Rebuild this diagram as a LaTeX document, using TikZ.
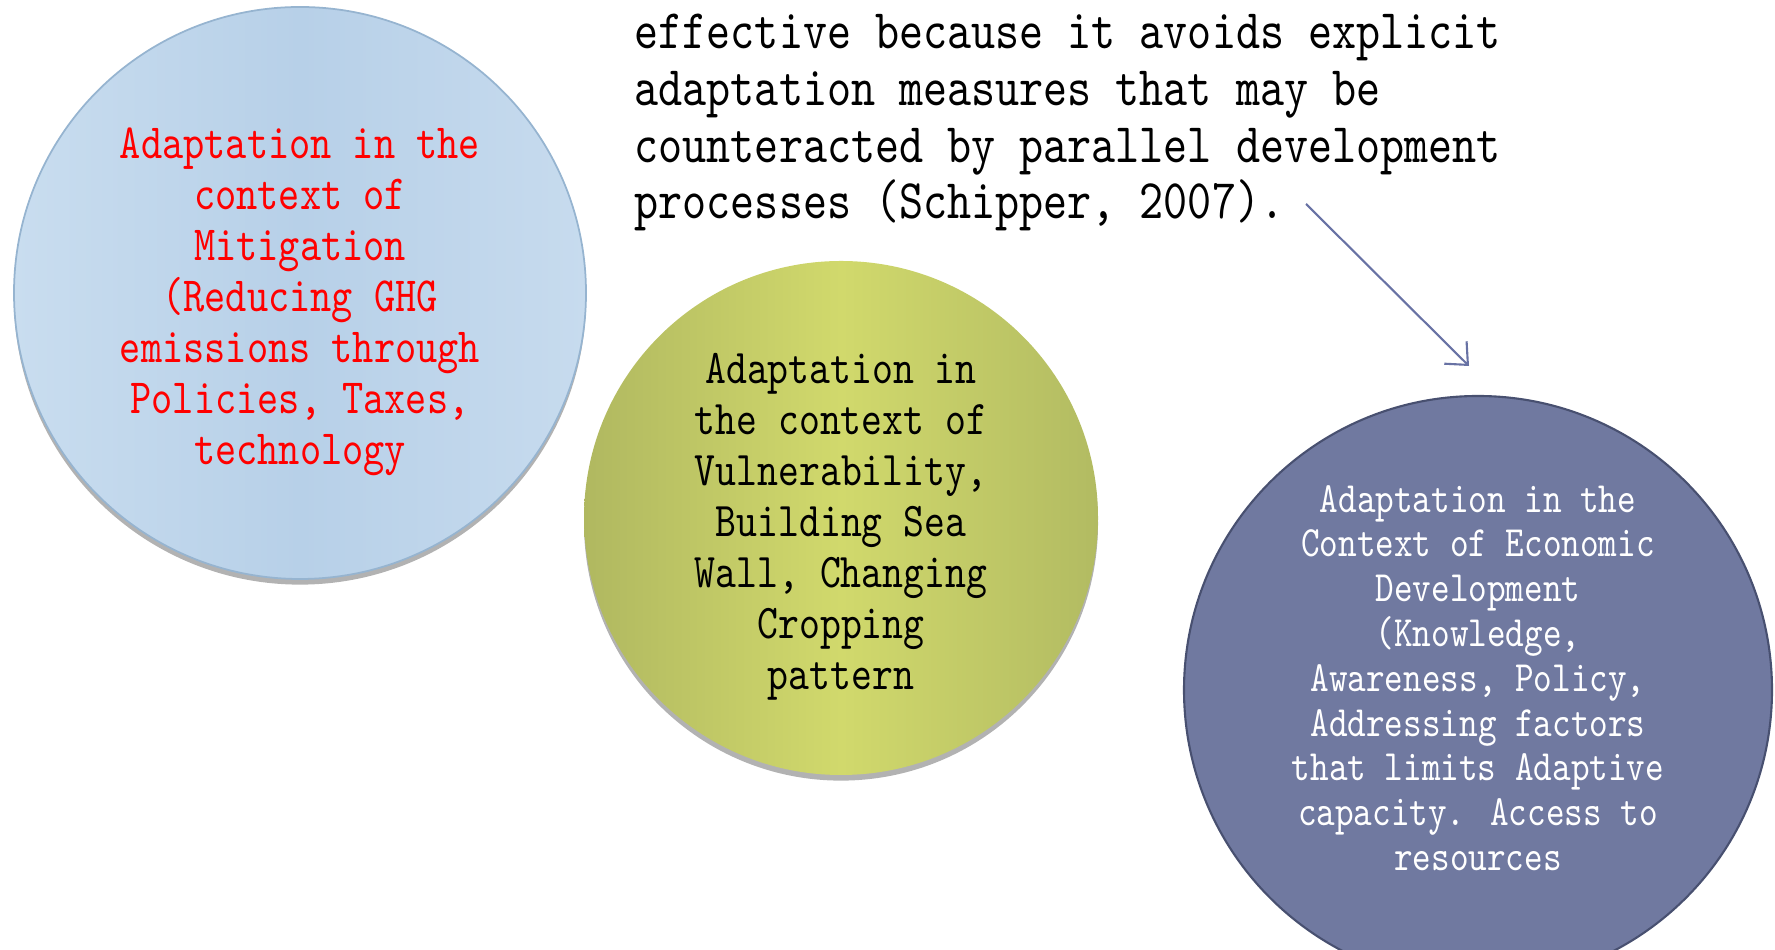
\documentclass[tikz,border=0pt]{standalone}
\usepackage{fontspec}
\usetikzlibrary{shadows,arrows.meta}
\newfontfamily\narrowtt[FakeStretch=0.82]{lmmono10-regular.otf}
\definecolor{MitBlueL}{RGB}{201,221,239}
\definecolor{MitBlueM}{RGB}{183,208,232}
\definecolor{MitBlueR}{RGB}{199,219,238}
\definecolor{MitBlueEdge}{RGB}{150,180,208}
\definecolor{VulGreenL}{RGB}{176,184,96}
\definecolor{VulGreenM}{RGB}{209,217,108}
\definecolor{VulGreenR}{RGB}{178,187,98}
\definecolor{EcoPurple}{RGB}{112,121,160}
\definecolor{EcoPurpleEdge}{RGB}{72,80,112}
\definecolor{ArrowBlue}{RGB}{104,114,164}

\tikzset{
  bubble/.style={circle, inner sep=0pt},
  bubbletext/.style={inner sep=0pt, align=center},
  softshadow/.style={drop shadow={shadow xshift=0pt, shadow yshift=-1.6pt, fill=black, opacity=0.3}},
}

\begin{document}
\begin{tikzpicture}
	\clip (0,0) rectangle (17.75,9.5);
	% quotation at the top
	\node[anchor=north west, inner sep=0pt, align=left, font=\narrowtt\fontsize{15.9}{16.2}\selectfont] (quote) at (6.34,9.37)
		{effective because it avoids explicit\\adaptation measures that may be\\counteracted by parallel development\\processes (Schipper, 2007).};
	% the three contexts
	\node[bubble, minimum size=5.72cm, draw=MitBlueEdge, line width=0.5pt, left color=MitBlueL, right color=MitBlueR, middle color=MitBlueM, softshadow] (mit) at (3.00,6.57) {};
	\node[bubbletext, text=red, font=\narrowtt\fontsize{14}{14.5}\selectfont] (mittext) at ([yshift=-0.09cm]mit.center)
		{Adaptation in the\\context of\\Mitigation\\(Reducing GHG\\emissions through\\Policies, Taxes,\\technology};
	\node[bubble, minimum size=5.14cm, left color=VulGreenL, right color=VulGreenR, middle color=VulGreenM, softshadow] (vul) at (8.41,4.32) {};
	\node[bubbletext, text=black, font=\narrowtt\fontsize{13.8}{14.5}\selectfont] (vultext) at ([yshift=-0.09cm]vul.center)
		{Adaptation in\\the context of\\Vulnerability,\\Building Sea\\Wall, Changing\\Cropping\\pattern};
	\node[bubble, minimum size=5.88cm, draw=EcoPurpleEdge, line width=0.6pt, fill=EcoPurple] (eco) at (14.78,2.60) {};
	\node[bubbletext, text=white, font=\narrowtt\fontsize{12.3}{12.75}\selectfont] (ecotext) at ([yshift=0.12cm]eco.center)
		{Adaptation in the\\Context of Economic\\Development\\(Knowledge,\\Awareness, Policy,\\Addressing factors\\that limits Adaptive\\capacity. Access to\\resources};
	\coordinate (cite) at (13.06,7.46);
	\coordinate (tip) at (14.69,5.84);
	\draw[ArrowBlue, line width=0.6pt, -{Straight Barb[length=5pt,width=9pt]}] (cite) -- (tip);
\end{tikzpicture}
\end{document}
